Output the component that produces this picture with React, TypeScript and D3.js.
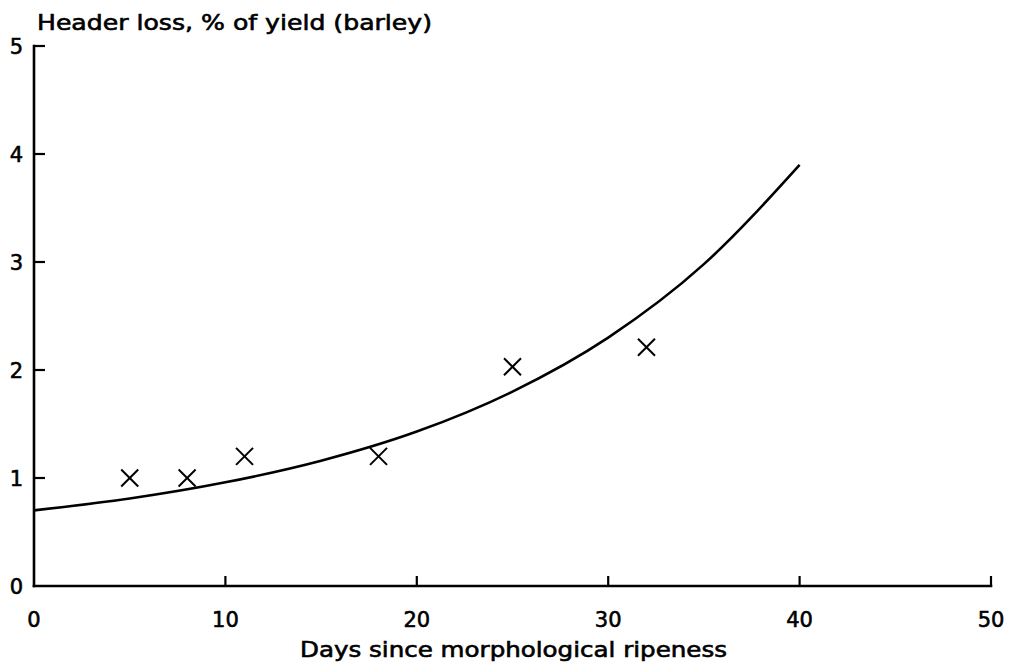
import React from "react";
import * as d3 from "d3";

const obsDays = [5, 8, 11, 18, 25, 32];
const obsLoss = [1.0, 1.0, 1.2, 1.2, 2.03, 2.21];

const fitDays = [0, 5, 10, 15, 20, 25, 30, 35, 40];
const fitLoss = [0.7, 0.81, 0.96, 1.16, 1.43, 1.8, 2.3, 2.98, 3.9];

const xTicks = [0, 10, 20, 30, 40, 50];
const yTicks = [0, 1, 2, 3, 4, 5];

const yTitle = "Header loss, % of yield (barley)";
const xTitle = "Days since morphological ripeness";

const W = 1010;
const H = 672;
const FONT = "'DejaVu Sans', sans-serif";

const textStyle = {
  fontFamily: FONT,
  fill: "#000",
  stroke: "#000",
  strokeWidth: 0.6,
};

export default function App() {
  const x = d3.scaleLinear().domain([0, 50]).range([34, 991]);
  const y = d3.scaleLinear().domain([0, 5]).range([586, 46]);

  const fitPts: [number, number][] = fitDays.map((d, i) => [d, fitLoss[i]]);
  const line = d3
    .line<[number, number]>()
    .x((d) => x(d[0]))
    .y((d) => y(d[1]))
    .curve(d3.curveMonotoneX);

  const ms = 8.5;

  return (
    <svg
      width={W}
      height={H}
      viewBox={`0 0 ${W} ${H}`}
      style={{ position: "absolute", left: 0, top: 0, background: "#fff" }}
    >
      <rect x={0} y={0} width={W} height={H} fill="#fff" />
      {/* axes */}
      <line x1={x(0)} x2={x(0)} y1={y(0)} y2={y(5)} stroke="#000" strokeWidth={2.6} strokeLinecap="square" />
      <line x1={x(0)} x2={x(50)} y1={y(0)} y2={y(0)} stroke="#000" strokeWidth={2.6} strokeLinecap="square" />
      {yTicks.filter((t) => t > 0).map((t) => (
        <line key={"yt" + t} x1={x(0)} x2={x(0) + 11} y1={y(t)} y2={y(t)} stroke="#000" strokeWidth={2.2} />
      ))}
      {xTicks.filter((t) => t > 0).map((t) => (
        <line key={"xt" + t} x1={x(t)} x2={x(t)} y1={y(0)} y2={y(0) - 10} stroke="#000" strokeWidth={2.2} />
      ))}
      {yTicks.map((t) => (
        <text key={"yl" + t} x={23} y={y(t) + 7.5} textAnchor="end" fontSize={21} style={textStyle}>
          {t}
        </text>
      ))}
      {xTicks.map((t) => (
        <text key={"xl" + t} x={x(t)} y={627} textAnchor="middle" fontSize={21} style={textStyle}>
          {t}
        </text>
      ))}
      <text
        x={37}
        y={30}
        fontSize={20.5}
        textLength={395}
        lengthAdjust="spacingAndGlyphs"
        style={textStyle}
      >
        {yTitle}
      </text>
      <text
        x={300}
        y={657}
        fontSize={20.5}
        textLength={427}
        lengthAdjust="spacingAndGlyphs"
        style={textStyle}
      >
        {xTitle}
      </text>
      {/* fitted curve */}
      <path d={line(fitPts) || ""} fill="none" stroke="#000" strokeWidth={2.6} />
      {/* observations */}
      {obsDays.map((d, i) => {
        const cx = x(d);
        const cy = y(obsLoss[i]);
        return (
          <g key={"m" + i} stroke="#000" strokeWidth={2}>
            <line x1={cx - ms} y1={cy - ms} x2={cx + ms} y2={cy + ms} />
            <line x1={cx - ms} y1={cy + ms} x2={cx + ms} y2={cy - ms} />
          </g>
        );
      })}
    </svg>
  );
}
